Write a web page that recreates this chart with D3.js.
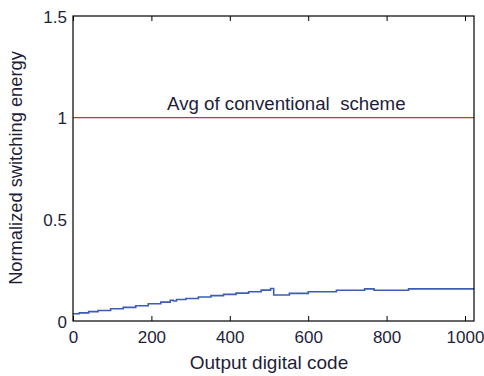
<!DOCTYPE html>
<html><head><meta charset="utf-8">
<script src="https://cdn.jsdelivr.net/npm/d3@7"></script>
<style>body{margin:0;background:#fff}svg{display:block}text{font-family:Arial,"Liberation Sans",sans-serif;fill:#1e1e3a}</style>
</head><body>
<script>
const xTicks = [0, 200, 400, 600, 800, 1000];
const yTicks = [0, 0.5, 1, 1.5];
const yTickLabels = ["0", "0.5", "1", "1.5"];
const codes  = [0, 16, 40, 64, 96, 128, 160, 192, 224, 248, 256, 264, 288, 320, 352, 384, 416, 448, 480, 504, 512, 552, 600, 672, 744, 768, 856, 1023];
const energy = [0.036, 0.040, 0.046, 0.052, 0.060, 0.067, 0.075, 0.085, 0.093, 0.102, 0.098, 0.106, 0.111, 0.118, 0.125, 0.131, 0.137, 0.144, 0.152, 0.160, 0.128, 0.136, 0.144, 0.151, 0.158, 0.151, 0.158, 0.158];
const conventionalAvg = 1;
const xLabel = "Output digital code";
const yLabel = "Normalized switching energy";
const annotation = "Avg of conventional  scheme";

const W = 484, H = 376;
const m = {left: 73, right: 10, top: 16, bottom: 55};
const svg = d3.select("body").append("svg").attr("width", W).attr("height", H);
const x = d3.scaleLinear().domain([0, 1023]).range([m.left, W - m.right]);
const y = d3.scaleLinear().domain([0, 1.5]).range([H - m.bottom, m.top]);

// data line (staircase)
const pts = codes.map((c, i) => [c, energy[i]]);
svg.append("path").datum(pts)
  .attr("fill", "none").attr("stroke", "#3d5db5").attr("stroke-width", 1.6)
  .attr("d", d3.line().x(d => x(d[0])).y(d => y(d[1])).curve(d3.curveStepAfter));

// conventional average line
svg.append("line")
  .attr("x1", x(0)).attr("x2", x(1023))
  .attr("y1", y(conventionalAvg)).attr("y2", y(conventionalAvg))
  .attr("stroke", "#e02a2a").attr("stroke-width", 1.3);

svg.append("text").attr("x", 167).attr("y", 110)
  .attr("font-size", 18.7).style("white-space", "pre").text(annotation);

// box
svg.append("rect").attr("x", m.left).attr("y", m.top)
  .attr("width", W - m.right - m.left).attr("height", H - m.bottom - m.top)
  .attr("fill", "none").attr("stroke", "#000").attr("stroke-width", 1.2);

// x axis (ticks inward, bottom and top)
const xb = svg.append("g").attr("transform", `translate(0,${H - m.bottom})`)
  .call(d3.axisBottom(x).tickValues(xTicks).tickSizeInner(-5).tickSizeOuter(0).tickPadding(10).tickFormat(d3.format("d")));
const xt = svg.append("g").attr("transform", `translate(0,${m.top})`)
  .call(d3.axisTop(x).tickValues(xTicks).tickSizeInner(-5).tickSizeOuter(0).tickFormat(""));
// y axis
const yl = svg.append("g").attr("transform", `translate(${m.left},0)`)
  .call(d3.axisLeft(y).tickValues(yTicks).tickSize(0).tickPadding(6)
    .tickFormat((d, i) => yTickLabels[i]));
[xb, xt, yl].forEach(g => {
  g.select(".domain").remove();
  g.selectAll("line").attr("stroke", "#000");
  g.selectAll("text").attr("font-size", 17).attr("font-family", "Arial, 'Liberation Sans', sans-serif").attr("fill", "#1e1e3a");
});
yl.selectAll("text").attr("dy", "0.36em");

svg.append("text").attr("x", 269).attr("y", 369).attr("text-anchor", "middle")
  .attr("font-size", 19).text(xLabel);
svg.append("text").attr("transform", `translate(22,${168}) rotate(-90)`)
  .attr("text-anchor", "middle").attr("font-size", 18.3).text(yLabel);
</script>
</body></html>
